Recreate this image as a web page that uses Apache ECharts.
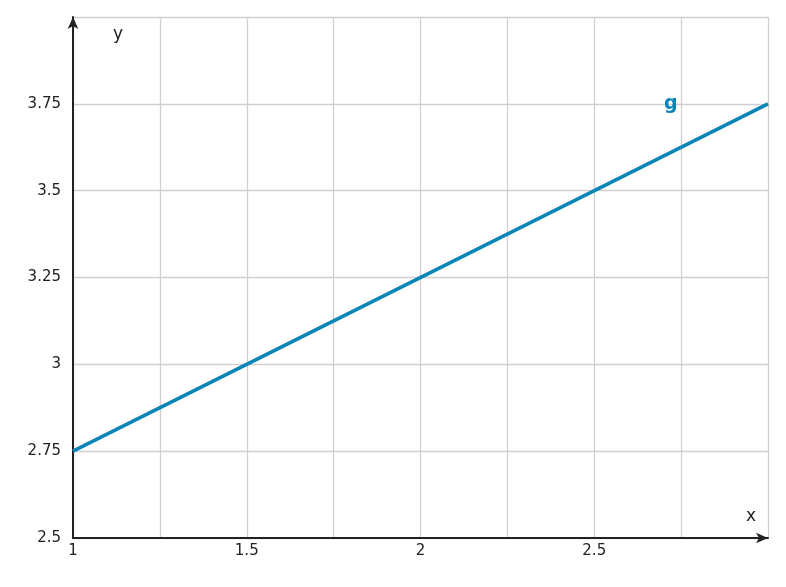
<!DOCTYPE html>
<html><head><meta charset="utf-8">
<script src="https://cdn.jsdelivr.net/npm/echarts@6/dist/echarts.min.js"></script>
<style>html,body{margin:0;padding:0;background:#fff}#c{width:786px;height:587px}</style>
</head><body><div id="c"></div>
<script>
const xs = [1, 3];
const ys = [2.75, 3.75];
const seriesName = 'g';
const labelPos = [2.72, 3.75];
const xLabels = ['1','1.5','2','2.5'];
const yLabels = ['2.5','2.75','3','3.25','3.5','3.75'];
const chart = echarts.init(document.getElementById('c'));
const font = 'DejaVu Sans';
chart.setOption({
  animation:false,
  grid:{left:73,right:18,top:17,bottom:49},
  xAxis:{type:'value',min:1,max:3,interval:0.25,
    axisLine:{lineStyle:{color:'#222',width:2},symbol:['none','arrow'],symbolSize:[8,12],symbolOffset:[0,0]},
    axisTick:{show:false},
    splitLine:{lineStyle:{color:'#d0d0d0',width:1.3}},
    axisLabel:{color:'#222',fontFamily:font,fontSize:15,margin:6,
      formatter:v=>{const s=String(+v.toFixed(2));return xLabels.includes(s)?s:'';}}},
  yAxis:{type:'value',min:2.5,max:4,interval:0.25,
    axisLine:{show:true,lineStyle:{color:'#222',width:2},symbol:['none','arrow'],symbolSize:[8,12]},
    axisTick:{show:false},
    splitLine:{lineStyle:{color:'#d0d0d0',width:1.3}},
    axisLabel:{color:'#222',fontFamily:font,fontSize:15,margin:12,
      formatter:v=>{const s=String(+v.toFixed(2));return yLabels.includes(s)?s:'';}}},
  graphic:[
    {type:'text',left:113,top:26,style:{text:'y',fill:'#222',font:'17px DejaVu Sans'}},
    {type:'text',left:746,top:508,style:{text:'x',fill:'#222',font:'17px DejaVu Sans'}}
  ],
  series:[{type:'line',name:seriesName,data:xs.map((x,i)=>[x,ys[i]]),symbol:'none',
    lineStyle:{color:'#0a85b8',width:3.5},
    markPoint:{symbol:'circle',symbolSize:0,data:[{coord:labelPos}],
      label:{show:true,formatter:seriesName,color:'#0a85b8',fontWeight:'bold',fontSize:19,fontFamily:font,position:'inside'}}}]
});
</script></body></html>
